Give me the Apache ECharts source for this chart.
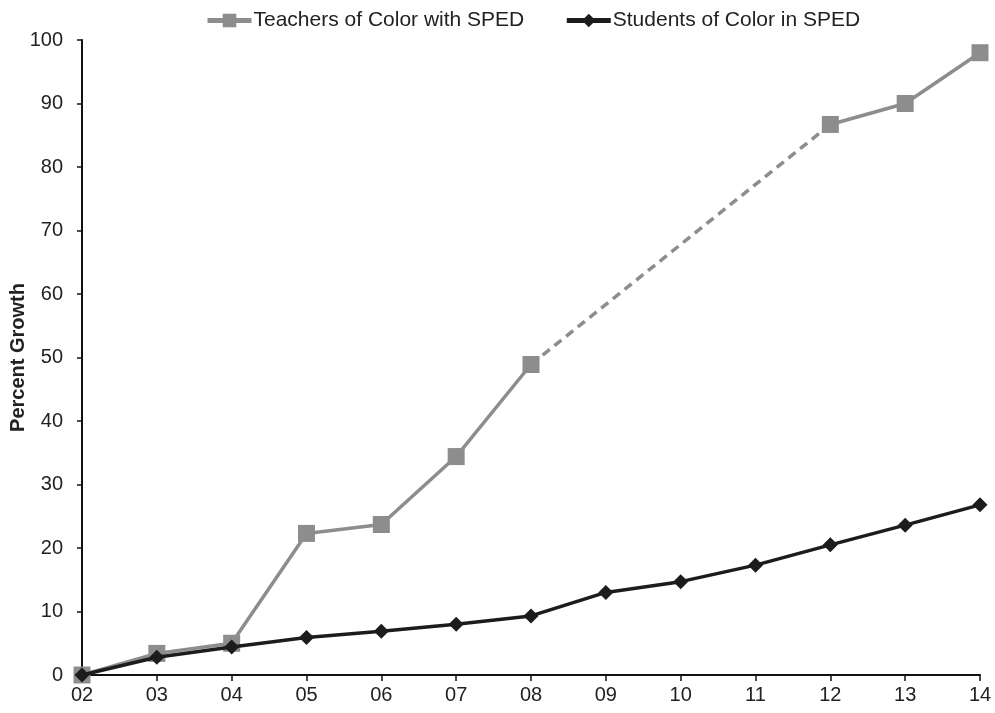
<!DOCTYPE html>
<html><head><meta charset="utf-8">
<script src="https://cdn.jsdelivr.net/npm/echarts@6/dist/echarts.min.js"></script>
<style>html,body{margin:0;padding:0;background:#fff}#c{width:995px;height:713px}</style>
</head><body><div id="c"></div>
<script>
const years = ['02','03','04','05','06','07','08','09','10','11','12','13','14'];
const teachers = [0, 3.4, 5.0, 22.3, 23.7, 34.4, 48.9, null, null, null, 86.7, 90.0, 98.0];
const teachersGap = [null, null, null, null, null, null, 48.9, null, null, null, 86.7, null, null];
const students = [0, 2.8, 4.4, 5.9, 6.9, 8.0, 9.3, 13.0, 14.7, 17.3, 20.5, 23.6, 26.8];
const yTicks = {min: 0, max: 100, interval: 10};

const font = 'Liberation Sans, Arial, sans-serif';
const gray = '#8d8d8d', black = '#1c1c1c';
const chart = echarts.init(document.getElementById('c'));
chart.setOption({
  animation: false,
  textStyle: {fontFamily: font},
  legend: {
    top: 10, left: 205, padding: 0, itemGap: 40, itemWidth: 44, itemHeight: 17,
    lineStyle: {width: 5},
    textStyle: {fontSize: 21, color: '#222', fontFamily: font, padding: [0, 0, 0, -3]},
    data: ['Teachers of Color with SPED', 'Students of Color in SPED']
  },
  grid: {left: 82, right: 15, top: 40, bottom: 38, outerBoundsMode: 'none', containLabel: false},
  xAxis: {
    type: 'category', data: years, boundaryGap: false,
    axisLine: {lineStyle: {color: '#111', width: 2}},
    axisTick: {show: true, alignWithLabel: true, length: 6, lineStyle: {color: '#111', width: 1.5}},
    axisLabel: {fontSize: 20, color: '#222', margin: 10, fontFamily: font}
  },
  yAxis: {
    type: 'value', min: yTicks.min, max: yTicks.max, interval: yTicks.interval,
    name: 'Percent Growth', nameLocation: 'middle', nameGap: 54, nameMoveOverlap: false,
    nameTextStyle: {fontSize: 20, fontWeight: 'bold', color: '#222', fontFamily: font},
    axisLine: {show: true, lineStyle: {color: '#111', width: 2}},
    axisTick: {show: true, length: 5, lineStyle: {color: '#111', width: 1.5}},
    splitLine: {show: false},
    axisLabel: {fontSize: 20, color: '#222', margin: 19, fontFamily: font}
  },
  series: [
    {name: 'Teachers of Color with SPED', type: 'line', data: teachers, connectNulls: false,
     symbol: 'rect', symbolSize: 17, itemStyle: {color: gray}, lineStyle: {color: gray, width: 3.5}, z: 2},
    {name: 'Teachers gap', type: 'line', data: teachersGap, connectNulls: true, showSymbol: false,
     symbol: 'none', lineStyle: {color: gray, width: 3.5, type: [9, 6]}, z: 1},
    {name: 'Students of Color in SPED', type: 'line', data: students,
     symbol: 'diamond', symbolSize: 15, itemStyle: {color: black}, lineStyle: {color: black, width: 3.5}, z: 3}
  ]
});
</script></body></html>
